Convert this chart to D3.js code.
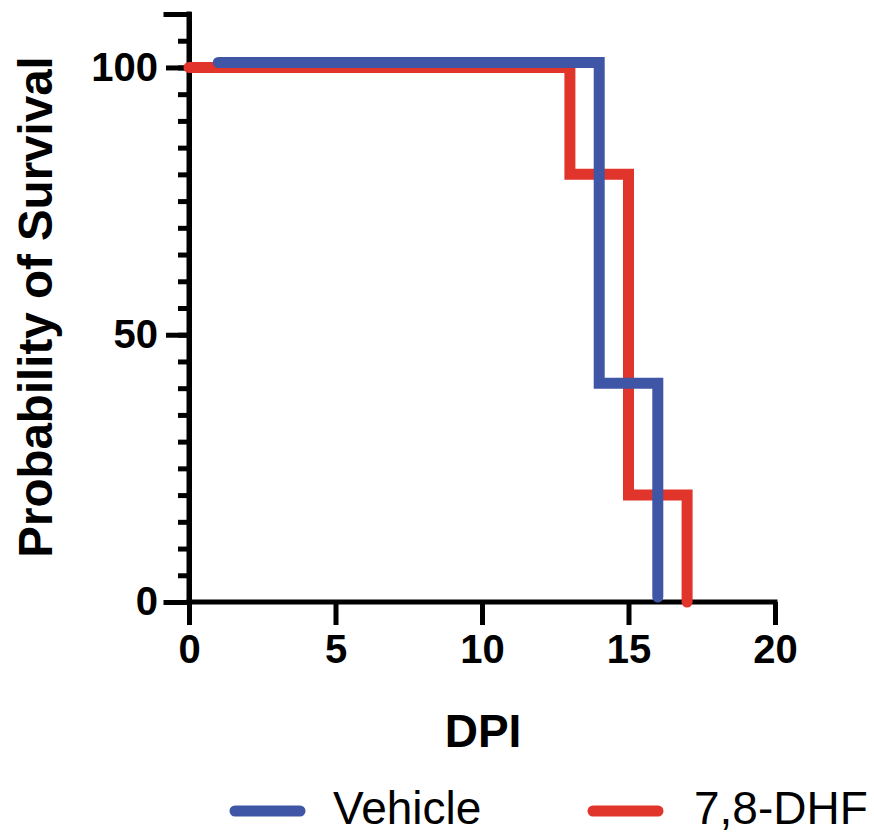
<!doctype html>
<html>
<head>
<meta charset="utf-8">
<style>
  body { margin: 0; background: #fff; }
  svg text { font-family: "Liberation Sans", Arial, sans-serif; fill: #000; }
</style>
</head>
<body>
<svg id="chart" width="874" height="835"></svg>
<script src="https://cdn.jsdelivr.net/npm/d3@7"></script>
<script>
// survival steps (day, % surviving)
const vehicleDays = [1, 14, 16];
const vehicleSurvival = [100, 40, 0];
const dhfDays = [0, 13, 15, 17];
const dhfSurvival = [100, 80, 20, 0];

const seriesNames = ['Vehicle', '7,8-DHF'];
const seriesColors = ['#3f56a6', '#e1352b'];

const xTicks = [0, 5, 10, 15, 20];
const yMajorTicks = [0, 50, 100];
const yMinorTicks = d3.range(0, 111, 5);

const svg = d3.select('#chart');

const xScale = d3.scaleLinear().domain([0, 20]).range([189, 775]);
const yScale = d3.scaleLinear().domain([0, 110]).range([602, 14]);

const axisColor = '#000';
const axisWidth = 5;

// y axis: minor ticks every 5, labelled ticks at 0/50/100
const yAxisG = svg.append('g')
  .attr('transform', `translate(${xScale(0)},0)`)
  .call(d3.axisLeft(yScale).tickValues(yMinorTicks).tickSize(11).tickFormat(''));
yAxisG.append('g')
  .call(d3.axisLeft(yScale).tickValues(yMajorTicks).tickSize(23).tickPadding(8));

// x axis
const xAxisG = svg.append('g')
  .attr('transform', `translate(0,${yScale(0)})`)
  .call(d3.axisBottom(xScale).tickValues(xTicks).tickSize(23).tickPadding(10));

svg.selectAll('.domain')
  .attr('stroke', axisColor)
  .attr('stroke-width', axisWidth)
  .attr('stroke-linecap', 'square');
// the inner major-tick axis has its own domain; keep only one
yAxisG.select('g').select('.domain').remove();
xAxisG.select('.domain').attr('d', `M${xScale(0)},0H${xScale(20)}`);
yAxisG.select('.domain').attr('d', `M0,${yScale(110)}V${yScale(0)}`);

svg.selectAll('.tick line')
  .attr('stroke', axisColor)
  .attr('stroke-width', axisWidth);
svg.selectAll('.tick text')
  .attr('font-size', 40)
  .attr('font-weight', 'bold')
  .attr('font-family', '"Liberation Sans", Arial, sans-serif')
  .attr('fill', '#000');

// survival curves (blue is drawn a few pixels up, as in the original)
const vehicleData = vehicleDays.map((d, i) => ({ x: d, y: vehicleSurvival[i] }));
const dhfData = dhfDays.map((d, i) => ({ x: d, y: dhfSurvival[i] }));

const stepLine = offset => d3.line()
  .x(d => xScale(d.x))
  .y(d => yScale(d.y) + offset)
  .curve(d3.curveStepAfter);

svg.append('path')
  .datum(dhfData)
  .attr('d', stepLine(0))
  .attr('fill', 'none')
  .attr('stroke', seriesColors[1])
  .attr('stroke-width', 11)
  .attr('stroke-linecap', 'round')
  .attr('stroke-linejoin', 'miter');

svg.append('path')
  .datum(vehicleData)
  .attr('d', stepLine(-5))
  .attr('fill', 'none')
  .attr('stroke', seriesColors[0])
  .attr('stroke-width', 11)
  .attr('stroke-linecap', 'round')
  .attr('stroke-linejoin', 'miter');

// axis titles
svg.append('text')
  .attr('x', 483)
  .attr('y', 747)
  .attr('text-anchor', 'middle')
  .attr('font-size', 46)
  .attr('font-weight', 'bold')
  .text('DPI');

svg.append('text')
  .attr('transform', 'translate(52,307) rotate(-90)')
  .attr('text-anchor', 'middle')
  .attr('font-size', 47.5)
  .attr('font-weight', 'bold')
  .text('Probability of Survival');

// legend
const legendX = [230, 588];
const legend = svg.selectAll('.legend')
  .data(seriesNames)
  .enter().append('g')
  .attr('class', 'legend')
  .attr('transform', (d, i) => `translate(${legendX[i]},811)`);

legend.append('line')
  .attr('x1', 5).attr('x2', 70)
  .attr('y1', 0).attr('y2', 0)
  .attr('stroke', (d, i) => seriesColors[i])
  .attr('stroke-width', 11)
  .attr('stroke-linecap', 'round');

legend.append('text')
  .attr('x', (d, i) => i === 0 ? 103 : 106)
  .attr('y', 13)
  .attr('font-size', 46)
  .text(d => d);
</script>
</body>
</html>
